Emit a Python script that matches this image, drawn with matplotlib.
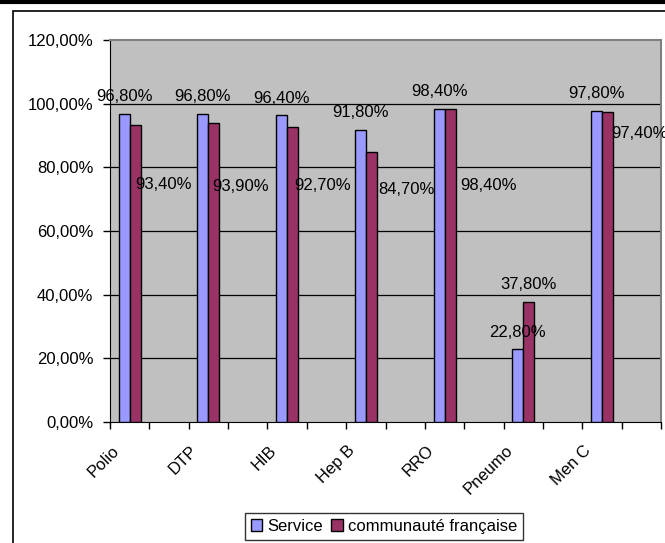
import matplotlib
matplotlib.use("Agg")
import matplotlib.pyplot as plt
from matplotlib.patches import Rectangle
from matplotlib.lines import Line2D
from matplotlib.ticker import FuncFormatter, FixedLocator, NullFormatter
import numpy as np

plt.rcParams['font.family'] = ['Liberation Sans', 'DejaVu Sans']

# data
vaccins = ['Polio', 'DTP', 'HIB', 'Hep B', 'RRO', 'Pneumo', 'Men C']
service = [96.8, 96.8, 96.4, 91.8, 98.4, 22.8, 97.8]
communaute = [93.4, 93.9, 92.7, 84.7, 98.4, 37.8, 97.4]
series_names = ['Service', 'communauté française']
yticks = [0, 20, 40, 60, 80, 100, 120]

# label offsets for the second series (pixels, left edge of text / vertical centre)
comm_lbl_off = [(0, -60), (-2, -63), (2, -59), (7, -37), (10, -77), None, (4, -22)]

FS = 12
W, H = 665, 543
fig = plt.figure(figsize=(W / 100, H / 100), dpi=100)
ax = fig.add_axes([110 / W, 121 / H, 551 / W, 382 / H])

# the excel sheet had blank categories between each vaccine
n_slots = 2 * len(vaccins)
xc = np.arange(0, n_slots, 2)
bw = 0.28

ax.bar(xc - bw / 2, service, bw, color='#9999FF', edgecolor='black', linewidth=1, label=series_names[0], zorder=3)
ax.bar(xc + bw / 2, communaute, bw, color='#993366', edgecolor='black', linewidth=1, label=series_names[1], zorder=3)

fmt = lambda v: ('%.2f%%' % v).replace('.', ',')

for i in range(len(vaccins)):
    ax.annotate(fmt(service[i]), (xc[i] - bw / 2, service[i]), xytext=(0, 17),
                textcoords='offset pixels', ha='center', va='center', fontsize=FS, zorder=4)
    off = comm_lbl_off[i]
    if off is None:
        ax.annotate(fmt(communaute[i]), (xc[i] + bw / 2, communaute[i]), xytext=(0, 17),
                    textcoords='offset pixels', ha='center', va='center', fontsize=FS, zorder=4)
    else:
        ax.annotate(fmt(communaute[i]), (xc[i] + bw / 2, communaute[i]), xytext=off,
                    textcoords='offset pixels', ha='left', va='center', fontsize=FS, zorder=4,
                    annotation_clip=False)
    # category label, rotated like excel does it
    ax.annotate(vaccins[i], (xc[i], 0), xytext=(-13, -26), textcoords='offset pixels',
                rotation=45, ha='right', va='center', rotation_mode='anchor', fontsize=FS,
                annotation_clip=False)

ax.set_xlim(-0.5, n_slots - 0.5)
ax.set_ylim(0, 120)
ax.set_facecolor('#C0C0C0')

ax.set_yticks(yticks)
ax.yaxis.set_major_formatter(FuncFormatter(lambda v, p: fmt(v)))
ax.tick_params(axis='y', direction='out', length=5, width=1, pad=7, labelsize=FS)
for y in yticks[1:-1]:
    ax.axhline(y, color='black', linewidth=0.9, zorder=1)

ax.set_xticks(np.arange(-0.5, n_slots, 1.0))
ax.xaxis.set_major_formatter(NullFormatter())
ax.tick_params(axis='x', direction='out', length=5, width=1)

for s in ['top', 'right']:
    ax.spines[s].set_color('#808080')
    ax.spines[s].set_linewidth(1.5)
ax.spines['left'].set_color('black')
ax.spines['bottom'].set_color('black')

leg = fig.legend(loc='upper center', bbox_to_anchor=(384 / W, 1 - 513 / H), ncol=2,
                 fontsize=FS, frameon=True, fancybox=False, edgecolor='black',
                 handlelength=0.7, handleheight=0.7, handletextpad=0.3, columnspacing=0.5,
                 borderpad=0.35, borderaxespad=0)
leg.get_frame().set_linewidth(1)

# outer chart frame and page line
fig.patches.append(Rectangle((13 / W, -0.1), 1.2, 1.1 - 11 / H, transform=fig.transFigure,
                             fill=False, edgecolor='black', linewidth=1.2))
fig.lines.append(Line2D([0, 1], [1 - 2 / H, 1 - 2 / H], transform=fig.transFigure,
                        color='black', linewidth=3))

fig.savefig('out.png', dpi=100)
